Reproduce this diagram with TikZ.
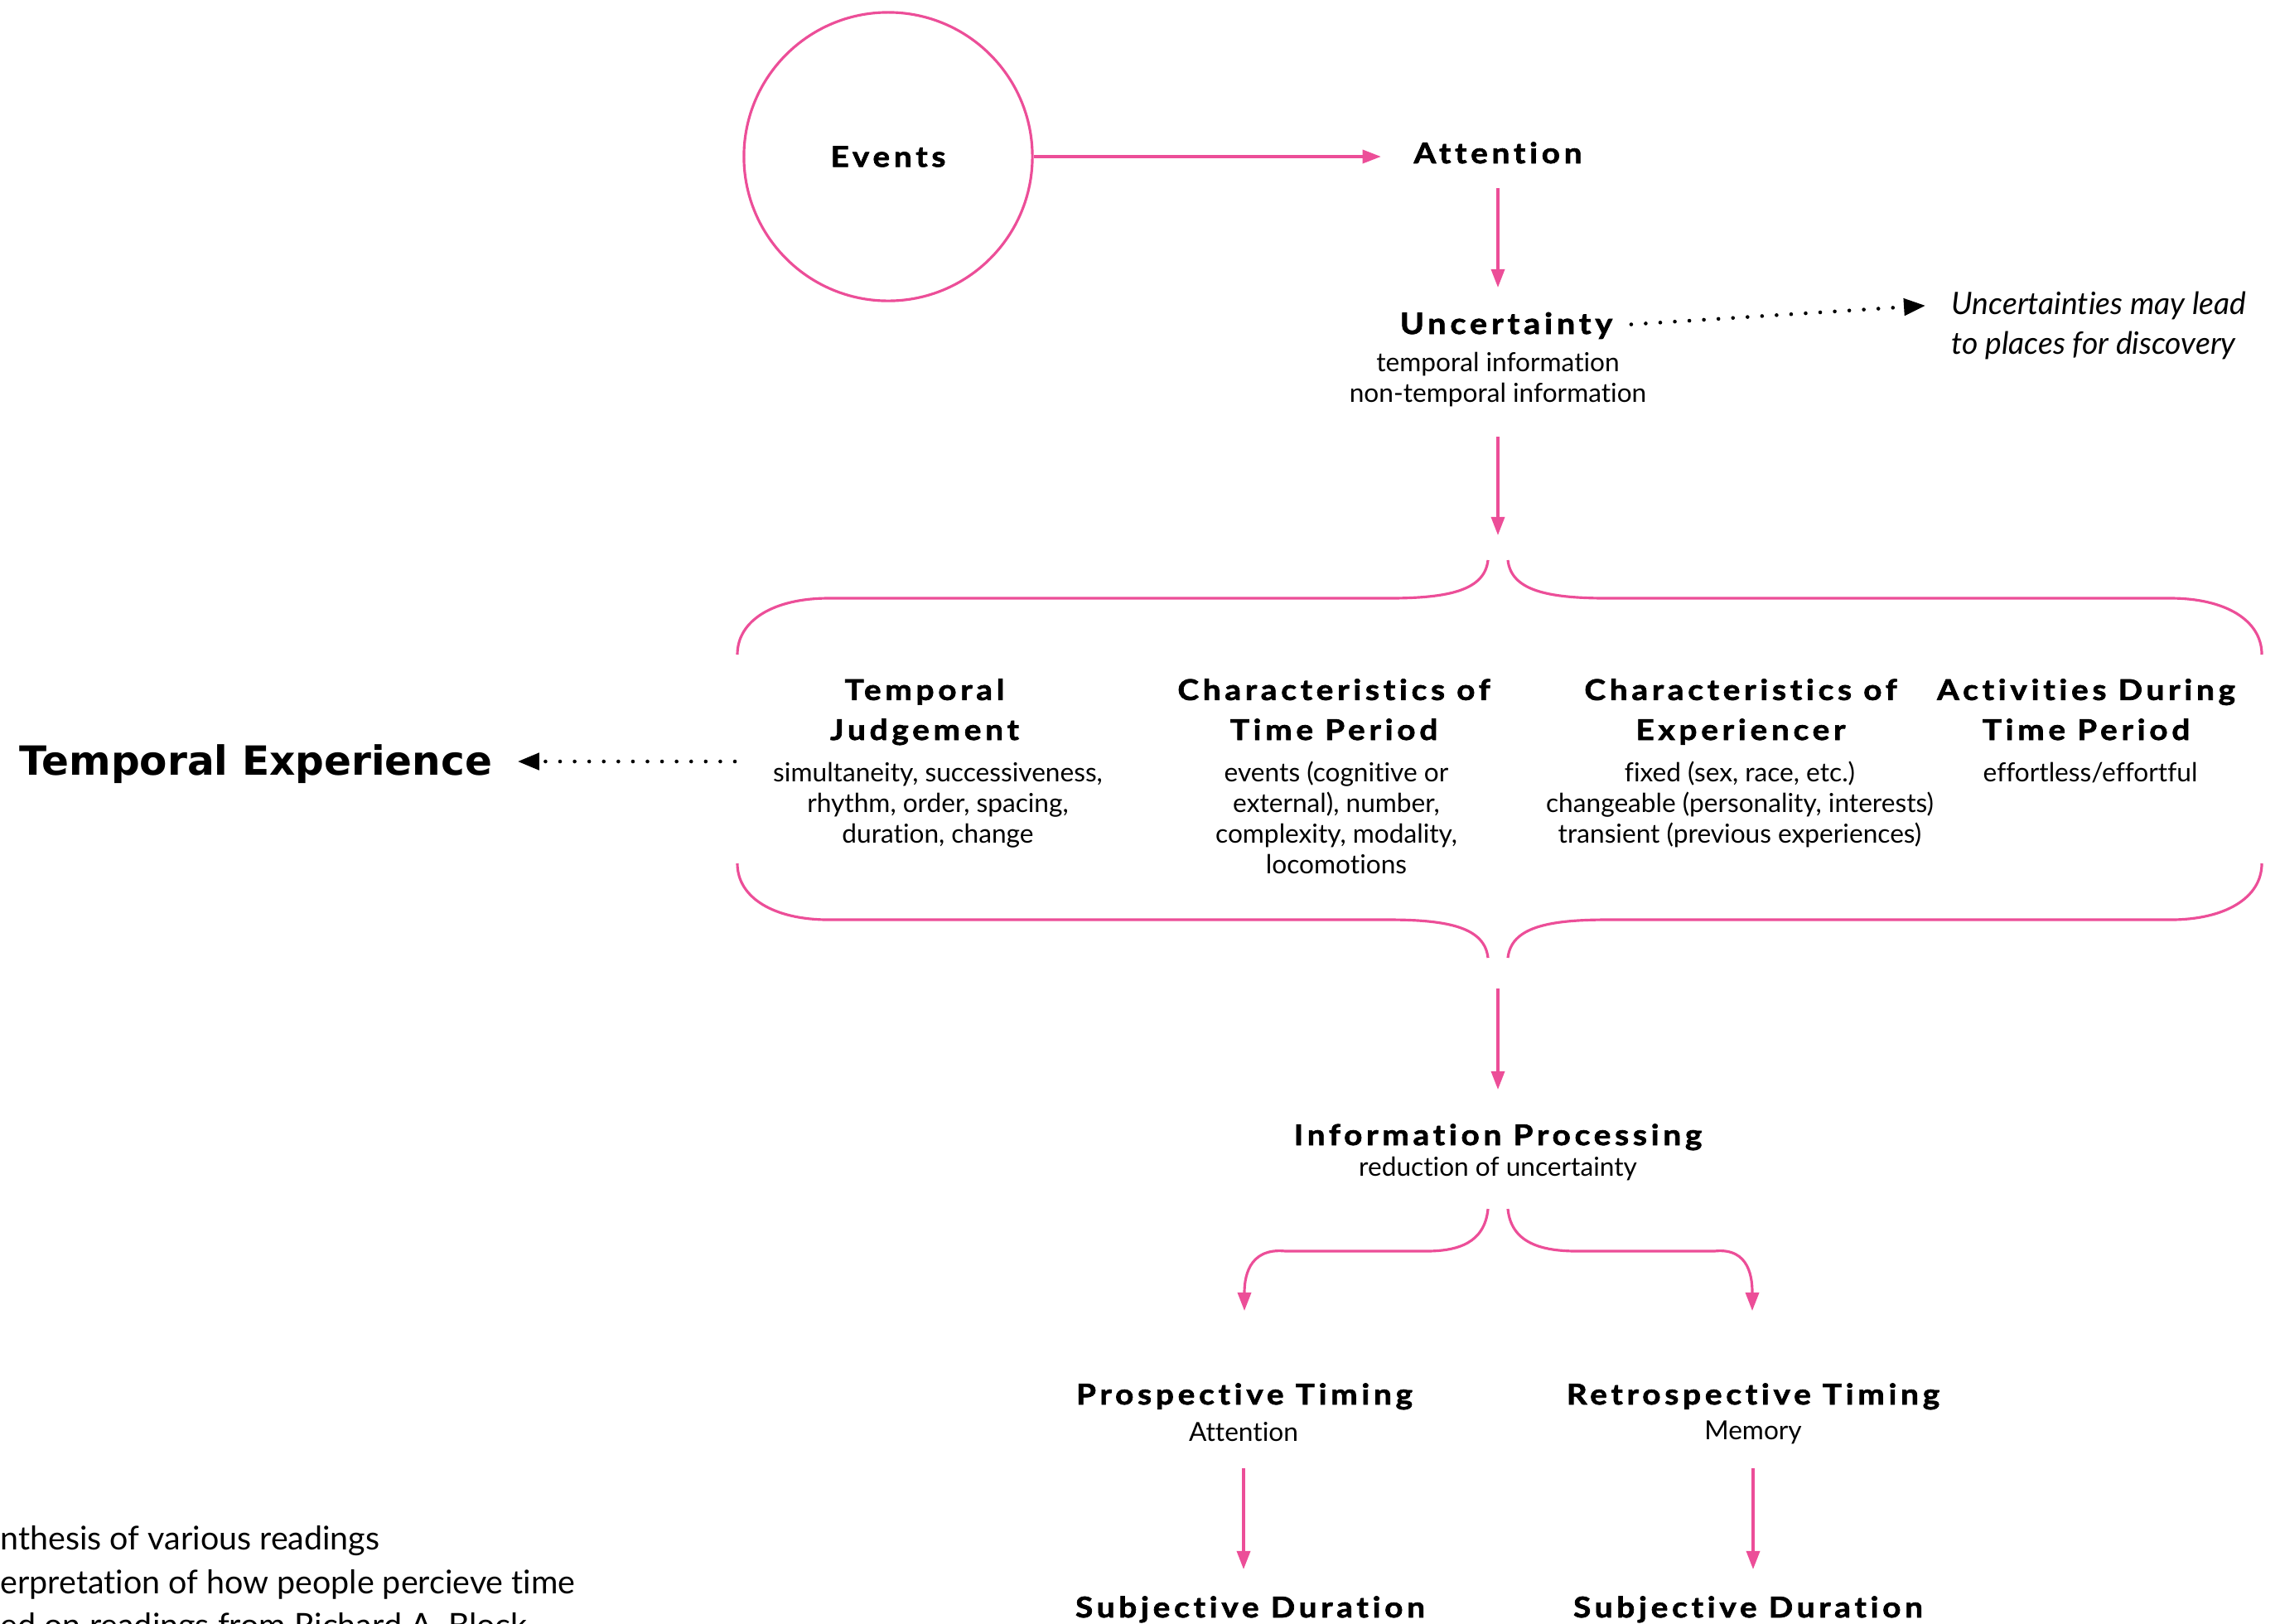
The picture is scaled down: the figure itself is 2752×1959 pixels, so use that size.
\documentclass[tikz,border=0pt]{standalone}
\usepackage{fontspec}
\setmainfont{Lato}[Ligatures=NoCommon]
\newfontfamily\headfont{Lato}[Ligatures=NoCommon,LetterSpace=14,FakeStretch=1.12,FakeBold=2]
\newfontfamily\bigfont{DejaVu Sans}
\usetikzlibrary{arrows.meta}
\definecolor{linkpink}{RGB}{236,78,152}

\tikzset{
  pinkline/.style={draw=linkpink,line width=0.9pt},
  pinkarrow/.style={pinkline,-{Triangle[length=6.3pt,width=4.6pt]}},
  dotarrow/.style={line width=1.3pt,line cap=round,dash pattern=on 0pt off 5pt,-{Triangle[length=7.4pt,width=5.7pt]}},
  headtxt/.style={font=\headfont\bfseries\fontsize{9.8}{13.7}\selectfont,align=center,inner sep=0pt,anchor=base},
  bodytxt/.style={font=\fontsize{9}{10.5}\selectfont,align=center,inner sep=0pt,anchor=base},
  notetxt/.style={font=\itshape\fontsize{10.6}{13.4}\selectfont,align=left,inner sep=0pt,anchor=base west},
}

\begin{document}
\begin{tikzpicture}
\begin{scope}[x=0.01cm,y=-0.01cm]
\useasboundingbox (0,0) rectangle (2752,1959);
\clip (0,0) rectangle (2752,1959);

% events and attention
\node[circle,pinkline,minimum size=3.48cm,inner sep=0pt,font=\headfont\bfseries\fontsize{9.8}{13.7}\selectfont] (events) at (1072,189) {Events};
\node[headtxt] (attention) at (1808,197) {Attention};
\draw[pinkarrow,shorten >=0.39cm] (events.east) -- (events.east -| attention.west);

% uncertainty (multi-line nodes sit on their last baseline)
\node[headtxt,font=\headfont\bfseries\fontsize{10}{14}\selectfont] (uncert) at (1818,403) {Uncertainty};
\node[bodytxt] (uncertsub) at (1808,485) {temporal information\\non-temporal information};
\node[notetxt] (note) at (2355,427) {Uncertainties may lead\\to places for discovery};
\draw[pinkarrow,shorten <=0.30cm,shorten >=0.56cm] (attention.base) -- (attention.base |- uncert.base);
\draw[dotarrow,shorten <=0.22cm,shorten >=0.31cm] (uncert.east) -- ([yshift=0.26cm]note.west);

% braces
\coordinate (toptip) at (1808,676);
\coordinate (bottip) at (1808,1156);
\coordinate (bracewest) at (887,919);
\draw[pinkline] (1796,676) .. controls (1792,712) and (1750,722) .. (1676,722) -- (1000,722) .. controls (935,722) and (890,748) .. (890,790);
\draw[pinkline] (1820,676) .. controls (1824,712) and (1866,722) .. (1940,722) -- (2620,722) .. controls (2685,722) and (2730,748) .. (2730,790);
\draw[pinkline] (1796,1156) .. controls (1792,1120) and (1750,1110) .. (1676,1110) -- (1000,1110) .. controls (935,1110) and (890,1084) .. (890,1042);
\draw[pinkline] (1820,1156) .. controls (1824,1120) and (1866,1110) .. (1940,1110) -- (2620,1110) .. controls (2685,1110) and (2730,1084) .. (2730,1042);
\draw[pinkarrow,shorten <=0.36cm,shorten >=0.30cm] (uncertsub.south) -- (toptip);

% columns
\node[headtxt] (judge) at (1116,893) {Temporal\\Judgement};
\node[bodytxt] (judgesub) at (1132,1017) {simultaneity, successiveness,\\rhythm, order, spacing,\\duration, change};
\node[headtxt] (period) at (1610,893) {Characteristics of\\Time Period};
\node[bodytxt] (periodsub) at (1613,1054) {events (cognitive or\\external), number,\\complexity, modality,\\locomotions};
\node[headtxt] (person) at (2101,893) {Characteristics of\\Experiencer};
\node[bodytxt] (personsub) at (2100,1017) {fixed (sex, race, etc.)\\changeable (personality, interests)\\transient (previous experiences)};
\node[headtxt] (activity) at (2518,893) {Activities During\\Time Period};
\node[bodytxt] (activitysub) at (2523,943) {effortless/effortful};

% temporal experience
\node[inner sep=0pt,anchor=base,font=\bigfont\bfseries\fontsize{13.8}{16}\selectfont] (texp) at (309,935) {Temporal Experience};
\draw[dotarrow,shorten >=0.30cm] (bracewest) -- (bracewest -| texp.east);

% information processing
\node[headtxt] (infoproc) at (1808,1382) {Information Processing};
\node[bodytxt] (infosub) at (1808,1419) {reduction of uncertainty};
\draw[pinkarrow,shorten <=0.37cm,shorten >=0.67cm] (bottip) -- (infoproc.base);
\draw[pinkarrow] (1796,1459) .. controls (1792,1500) and (1760,1510) .. (1721,1510) -- (1552,1510) .. controls (1505,1505) and (1502,1545) .. (1502,1582);
\draw[pinkarrow] (1820,1459) .. controls (1824,1500) and (1860,1510) .. (1904,1510) -- (2069,1510) .. controls (2113,1505) and (2115,1545) .. (2115,1582);

% timing
\node[headtxt] (prosp) at (1502,1695) {Prospective Timing};
\node[bodytxt] (prospsub) at (1501,1739) {Attention};
\node[headtxt] (retro) at (2116,1695) {Retrospective Timing};
\node[bodytxt] (retrosub) at (2116,1737) {Memory};
\node[headtxt] (subjleft) at (1509,1952) {Subjective Duration};
\node[headtxt] (subjright) at (2110,1952) {Subjective Duration};
\draw[pinkarrow,shorten <=0.33cm,shorten >=0.58cm] (prospsub.base) -- (prospsub.base |- subjleft.base);
\draw[pinkarrow,shorten <=0.35cm,shorten >=0.58cm] (retrosub.base) -- (retrosub.base |- subjright.base);

% notes
\node[inner sep=0pt,anchor=base west,align=left,font=\fontsize{11.2}{14.8}\selectfont] (credits) at (0,1975) {nthesis of various readings\\erpretation of how people percieve time\\ed on readings from Richard A. Block};

\end{scope}
\end{tikzpicture}
\end{document}
